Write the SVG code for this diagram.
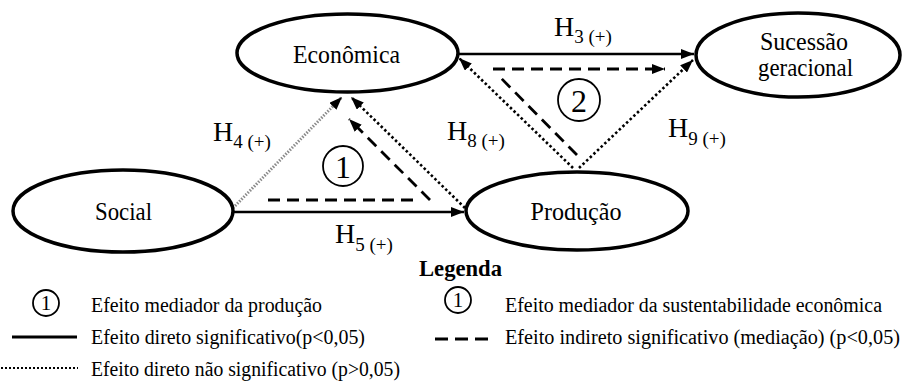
<svg xmlns="http://www.w3.org/2000/svg" width="906" height="383" viewBox="0 0 906 383" font-family="'Liberation Serif', 'Times New Roman', 'DejaVu Serif', serif">
<style>
text, tspan{font-family:'Liberation Serif', 'Times New Roman', 'DejaVu Serif', serif;fill:#000}
.node ellipse{fill:#fff;stroke:#000;stroke-width:3.5}
.nt{font-size:24.5px;text-anchor:middle}
.h{font-size:28px}
.sub{font-size:19px}
.solid{stroke:#000;stroke-width:2.5;fill:none}
.dot{stroke:#000;stroke-width:2.6;stroke-dasharray:2.5 2.5;fill:none}
.gdot{stroke:#8a8a8a;stroke-width:3;stroke-dasharray:1.5 1.5;fill:none}
.dash{stroke:#000;stroke-width:2.8;stroke-dasharray:12 7;fill:none}
.circ{fill:#fff;stroke:#000;stroke-width:1.8}
.num{font-size:32px;text-anchor:middle}
.lnum{font-size:21px;text-anchor:middle}
.lt{font-size:20px}
</style>
<defs>
<marker id="ah" markerWidth="14" markerHeight="10" refX="13" refY="5" orient="auto" markerUnits="userSpaceOnUse"><path d="M0,0 L13,5 L0,10 z" fill="#000"/></marker>
</defs>
<g id="connectors">
<path class="solid" d="M458,54 L694,54" marker-end="url(#ah)"/>
<path class="solid" d="M233,212 L464,212" marker-end="url(#ah)"/>
<path class="gdot" d="M233,208 L342,97" marker-end="url(#ah)"/>
<path class="dot" d="M465,208 L351,97" marker-end="url(#ah)"/>
<path class="dot" d="M573,168 L459,58" marker-end="url(#ah)"/>
<path class="dot" d="M579,168 L693,60" marker-end="url(#ah)"/>
<path class="dash" d="M268,200 L420,200"/>
<path class="dash" d="M430,200 L349,119" marker-end="url(#ah)"/>
<path class="dash" d="M577,155 L498,75"/>
<path class="dash" d="M493,69 L665,69" marker-end="url(#ah)"/>
</g>
<g id="economica" class="node"><ellipse cx="347.5" cy="53" rx="110.5" ry="39"/><text class="nt" x="346.5" y="63" textLength="107" lengthAdjust="spacingAndGlyphs">Econômica</text></g>
<g id="sucessao" class="node"><ellipse cx="798" cy="55" rx="102" ry="42"/><text class="nt" x="804" y="50" textLength="88" lengthAdjust="spacingAndGlyphs">Sucessão</text><text class="nt" x="805.5" y="76" textLength="95" lengthAdjust="spacingAndGlyphs">geracional</text></g>
<g id="social" class="node"><ellipse cx="123" cy="211" rx="110" ry="41"/><text class="nt" x="123.5" y="220" textLength="57" lengthAdjust="spacingAndGlyphs">Social</text></g>
<g id="producao" class="node"><ellipse cx="577" cy="211" rx="111" ry="39"/><text class="nt" x="576" y="220" textLength="91" lengthAdjust="spacingAndGlyphs">Produção</text></g>
<g id="mediator1"><circle class="circ" cx="343" cy="166" r="20"/><text class="num" x="343" y="178">1</text></g>
<g id="mediator2"><circle class="circ" cx="579" cy="100" r="21"/><text class="num" x="579" y="112">2</text></g>
<g id="labels">
<text x="554" y="36"><tspan class="h">H</tspan><tspan class="sub" dy="7">3 (+)</tspan></text>
<text x="447" y="140"><tspan class="h">H</tspan><tspan class="sub" dy="7">8 (+)</tspan></text>
<text x="668" y="137"><tspan class="h">H</tspan><tspan class="sub" dy="8">9 (+)</tspan></text>
<text x="213" y="141"><tspan class="h">H</tspan><tspan class="sub" dy="7">4 (+)</tspan></text>
<text x="335" y="243"><tspan class="h">H</tspan><tspan class="sub" dy="8">5 (+)</tspan></text>
</g>
<g id="legend">
<text x="419" y="276" style="font-size:23px;font-weight:bold" textLength="83" lengthAdjust="spacingAndGlyphs">Legenda</text>
<circle class="circ" cx="46" cy="303" r="13"/><text class="lnum" x="46" y="310">1</text>
<text class="lt" x="91" y="312" textLength="231" lengthAdjust="spacingAndGlyphs">Efeito mediador da produção</text>
<circle class="circ" cx="458" cy="300" r="13"/><text class="lnum" x="458" y="307">1</text>
<text class="lt" x="505" y="312" textLength="377" lengthAdjust="spacingAndGlyphs">Efeito mediador da sustentabilidade econômica</text>
<path d="M12,337 L77,337" stroke="#000" stroke-width="3"/>
<text class="lt" x="91" y="344" textLength="274" lengthAdjust="spacingAndGlyphs">Efeito direto significativo(p&lt;0,05)</text>
<path d="M435,339 L488,339" stroke="#000" stroke-width="3" stroke-dasharray="13 7"/>
<text class="lt" x="505" y="344" textLength="395" lengthAdjust="spacingAndGlyphs">Efeito indireto significativo (mediação) (p&lt;0,05)</text>
<path d="M1,368 L78,368" stroke="#000" stroke-width="2.2" stroke-dasharray="2 2"/>
<text class="lt" x="91" y="376" textLength="309" lengthAdjust="spacingAndGlyphs">Efeito direto não significativo (p&gt;0,05)</text>
</g>
</svg>
